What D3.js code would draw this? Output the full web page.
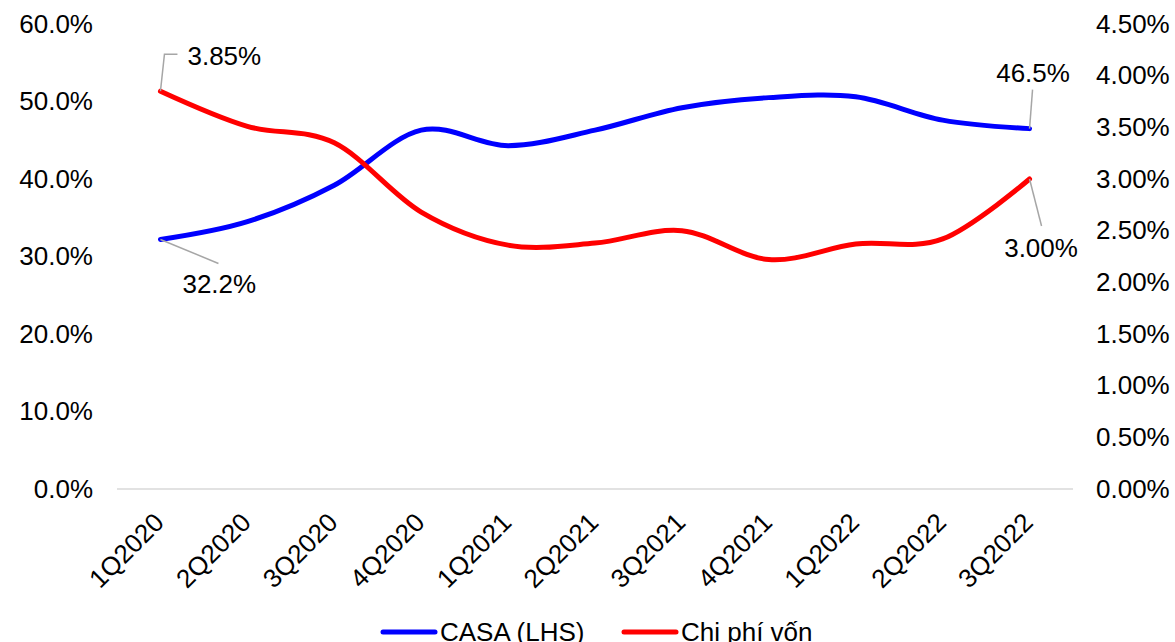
<!DOCTYPE html>
<html>
<head>
<meta charset="utf-8">
<script src="https://cdn.jsdelivr.net/npm/d3@7"></script>
<style>
  html, body { margin: 0; padding: 0; background: #fff; overflow: hidden; }
  svg { display: block; font-family: "Liberation Sans", Arial, sans-serif; }
</style>
</head>
<body>
<svg id="chart" width="1175" height="642"></svg>
<script>
// Quarters on the x axis
const quarters = ["1Q2020", "2Q2020", "3Q2020", "4Q2020", "1Q2021", "2Q2021",
                  "3Q2021", "4Q2021", "1Q2022", "2Q2022", "3Q2022"];
// CASA ratio, % (left axis)
const casa = [32.2, 34.5, 39.2, 46.3, 44.3, 46.3, 49.2, 50.5, 50.6, 47.6, 46.5];
// Cost of funds, % (right axis)
const costOfFunds = [3.85, 3.51, 3.35, 2.68, 2.36, 2.38, 2.50, 2.22, 2.37, 2.42, 3.00];
// Axis ticks
const leftTicks = [0, 10, 20, 30, 40, 50, 60];
const rightTicks = [0, 0.5, 1, 1.5, 2, 2.5, 3, 3.5, 4, 4.5];

const svg = d3.select("#chart");
const plot = { left: 117, right: 1073, top: 24, bottom: 489 };
const fontSize = 26;
const fontFamily = "Liberation Sans, Arial, sans-serif";

const x = d3.scaleBand().domain(quarters).range([plot.left, plot.right]);
const xc = d => x(d) + x.bandwidth() / 2;
const yL = d3.scaleLinear().domain([0, 60]).range([plot.bottom, plot.top]);
const yR = d3.scaleLinear().domain([0, 4.5]).range([plot.bottom, plot.top]);

// Baseline
svg.append("line")
  .attr("x1", plot.left).attr("x2", plot.right)
  .attr("y1", yL(0)).attr("y2", yL(0))
  .attr("stroke", "#d9d9d9").attr("stroke-width", 1.5);

// Left axis labels
const leftAxis = svg.append("g")
  .attr("transform", `translate(93,0)`)
  .call(d3.axisLeft(yL).tickValues(leftTicks).tickFormat(d => d.toFixed(1) + "%").tickSize(0).tickPadding(0));
leftAxis.select(".domain").remove();
leftAxis.selectAll("text").attr("font-size", fontSize).attr("fill", "#000")
  .attr("font-family", fontFamily);

// Right axis labels
const rightAxis = svg.append("g")
  .attr("transform", `translate(1096,0)`)
  .call(d3.axisRight(yR).tickValues(rightTicks).tickFormat(d => d.toFixed(2) + "%").tickSize(0).tickPadding(0));
rightAxis.select(".domain").remove();
rightAxis.selectAll("text").attr("font-size", fontSize).attr("fill", "#000")
  .attr("font-family", fontFamily);

// Category labels, rotated
const xAxis = svg.append("g")
  .attr("transform", `translate(0,${plot.bottom})`)
  .call(d3.axisBottom(x).tickSize(0).tickPadding(0));
xAxis.select(".domain").remove();
xAxis.selectAll("text")
  .attr("font-size", fontSize).attr("fill", "#000")
  .attr("font-family", fontFamily)
  .attr("text-anchor", "end")
  .attr("dy", null).attr("y", 0)
  .attr("transform", "translate(5,35) rotate(-45)");

// Smoothed series lines
const curve = d3.curveCardinal.tension(0);
const casaLine = d3.line().x((d, i) => xc(quarters[i])).y(d => yL(d)).curve(curve);
const cofLine = d3.line().x((d, i) => xc(quarters[i])).y(d => yR(d)).curve(curve);

svg.append("path").datum(casa).attr("d", casaLine)
  .attr("fill", "none").attr("stroke", "#0000ff").attr("stroke-width", 5)
  .attr("stroke-linecap", "round").attr("stroke-linejoin", "round");
svg.append("path").datum(costOfFunds).attr("d", cofLine)
  .attr("fill", "none").attr("stroke", "#ff0000").attr("stroke-width", 5)
  .attr("stroke-linecap", "round").attr("stroke-linejoin", "round");

// Data labels with leader lines at first and last points
const first = 0, last = quarters.length - 1;
const leaders = [
  { px: xc(quarters[first]), py: yR(costOfFunds[first]), pts: [[4, -37], [17, -37]],
    text: costOfFunds[first].toFixed(2) + "%", tx: 27, ty: -35, anchor: "start" },
  { px: xc(quarters[first]), py: yL(casa[first]), pts: [[58, 24]],
    text: casa[first].toFixed(1) + "%", tx: 22, ty: 45, anchor: "start" },
  { px: xc(quarters[last]), py: yL(casa[last]), pts: [[3, -39]],
    text: casa[last].toFixed(1) + "%", tx: 3.5, ty: -56, anchor: "middle" },
  { px: xc(quarters[last]), py: yR(costOfFunds[last]), pts: [[12, 47]],
    text: costOfFunds[last].toFixed(2) + "%", tx: 11.5, ty: 69, anchor: "middle" }
];
leaders.forEach(l => {
  const pts = [[l.px, l.py]].concat(l.pts.map(p => [l.px + p[0], l.py + p[1]]));
  svg.append("path").attr("d", d3.line()(pts))
    .attr("fill", "none").attr("stroke", "#a6a6a6").attr("stroke-width", 1.5);
  svg.append("text")
    .attr("x", l.px + l.tx).attr("y", l.py + l.ty)
    .attr("text-anchor", l.anchor).attr("dominant-baseline", "central")
    .attr("font-size", fontSize).attr("fill", "#000")
    .text(l.text);
});

// Legend
const legend = [
  { name: "CASA (LHS)", color: "#0000ff", x: 383 },
  { name: "Chi phí vốn", color: "#ff0000", x: 624 }
];
legend.forEach(l => {
  svg.append("line")
    .attr("x1", l.x).attr("x2", l.x + 52).attr("y1", 632).attr("y2", 632)
    .attr("stroke", l.color).attr("stroke-width", 5).attr("stroke-linecap", "round");
  svg.append("text").attr("x", l.x + 57).attr("y", 641)
    .attr("font-size", fontSize).attr("fill", "#000").text(l.name);
});
</script>
</body>
</html>
